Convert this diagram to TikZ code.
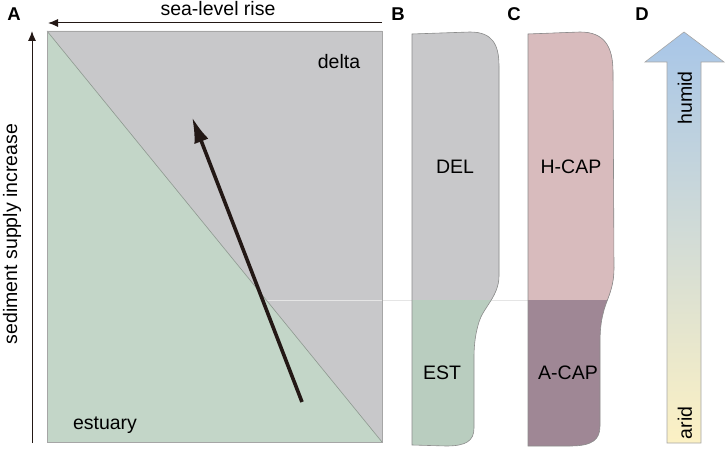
\documentclass[tikz,border=0pt]{standalone}
\usepackage{fontspec}
\setmainfont{Liberation Sans}
\usetikzlibrary{arrows.meta}

\definecolor{deltagrey}{HTML}{C8C8CA}
\definecolor{estgreen}{HTML}{C3D6C8}
\definecolor{estgreenB}{HTML}{B9CDBF}
\definecolor{hcappink}{HTML}{D8BBBD}
\definecolor{acapmauve}{HTML}{9F8795}
\definecolor{humidblue}{HTML}{A8C6E8}
\definecolor{aridyellow}{HTML}{FCF1C4}
\definecolor{arrowblack}{HTML}{231815}

\newcommand{\delshape}{(412,34) -- (470,32) .. controls (492,32) and (499,44) .. (499,66)
  -- (499,276) .. controls (499,296) and (483,308) .. (479,322)
  .. controls (476,332) and (474,342) .. (474,358) -- (474,428)
  .. controls (474,441) and (466,446) .. (446,446) -- (412,445) -- cycle}
\newcommand{\capshape}{(528,34) -- (580,32) .. controls (604,32) and (613,46) .. (613,72)
  -- (614,268) .. controls (614,290) and (606,300) .. (603,314)
  .. controls (601,322) and (600,330) .. (600,345) -- (600,426)
  .. controls (600,440) and (592,446) .. (570,446) -- (528,446) -- cycle}

\tikzset{
  txt/.style={font=\fontsize{19.5}{22}\selectfont, inner sep=0pt},
  panel/.style={font=\fontsize{18.5}{22}\selectfont\bfseries, inner sep=0pt},
  outline/.style={draw=black!45, line width=0.6pt},
}

\begin{document}
\begin{tikzpicture}[x=1pt, y=-1pt]
      \useasboundingbox (0,0) rectangle (726,449);
      %% panel labels
      \node[panel] (A) at (14,14) {A};
      \node[panel] (B) at (398,14) {B};
      \node[panel] (C) at (514,14) {C};
      \node[panel] (D) at (642,14) {D};
      %% panel A
      \fill[deltagrey] (47,31) -- (382,31) -- (382,442) -- cycle;
      \fill[estgreen] (47,31) -- (47,442) -- (382,442) -- cycle;
      \draw[black!10, line width=0.6pt] (266,300) -- (528,300);
      \draw[black!25!estgreen!70!gray, line width=0.6pt] (47,31) -- (382,442);
      \draw[black!35, line width=0.8pt] (47,31) rectangle (382,442);
      \node[txt] (delta) at (339,62) {delta};
      \node[txt] (estuary) at (105,425) {estuary};
      \node[txt, rotate=90] (supply) at (12,234) {sediment supply increase};
      \node[txt] (sealevel) at (218,9) {sea-level rise};
      \coordinate (sl0) at (382,23);
      \coordinate (sl1) at (48,23);
      \coordinate (ss0) at (32,443);
      \coordinate (ss1) at (32,31);
      \coordinate (tr0) at (302,402);
      \coordinate (tr1) at (192,117);
      %% arrows
      \draw[arrowblack, line width=1pt, -{Latex[length=10pt,width=8pt]}] (sl0) -- (sl1);
      \draw[arrowblack, line width=1pt, -{Latex[length=10pt,width=8pt]}] (ss0) -- (ss1);
      \draw[arrowblack, line width=3.6pt, -{Latex[length=26pt,width=15pt]}] (tr0) -- (tr1);
      %% panel B
      \fill[estgreenB] \delshape;
      \begin{scope}
        \clip (0,0) rectangle (726,300);
        \fill[deltagrey] \delshape;
      \end{scope}
      \draw[outline] \delshape;
      \node[txt] (DEL) at (455,167) {DEL};
      \node[txt] (EST) at (442,373) {EST};
      %% panel C
      \fill[acapmauve] \capshape;
      \begin{scope}
        \clip (0,0) rectangle (726,300);
        \fill[hcappink] \capshape;
      \end{scope}
      \draw[outline] \capshape;
      \node[txt] (HCAP) at (571,167) {H-CAP};
      \node[txt] (ACAP) at (568,373) {A-CAP};
      %% panel D
      \shade[top color=humidblue, bottom color=aridyellow]
        (667,443) -- (667,62) -- (645,62) -- (684,32) -- (724,62) -- (701,62) -- (701,443) -- cycle;
      \draw[black!35, line width=0.6pt]
        (667,443) -- (667,62) -- (645,62) -- (684,32) -- (724,62) -- (701,62) -- (701,443) -- cycle;
      \node[txt, rotate=90] (humid) at (685,98) {humid};
      \node[txt, rotate=90] (arid) at (685,423) {arid};
    \end{tikzpicture}
\end{document}
